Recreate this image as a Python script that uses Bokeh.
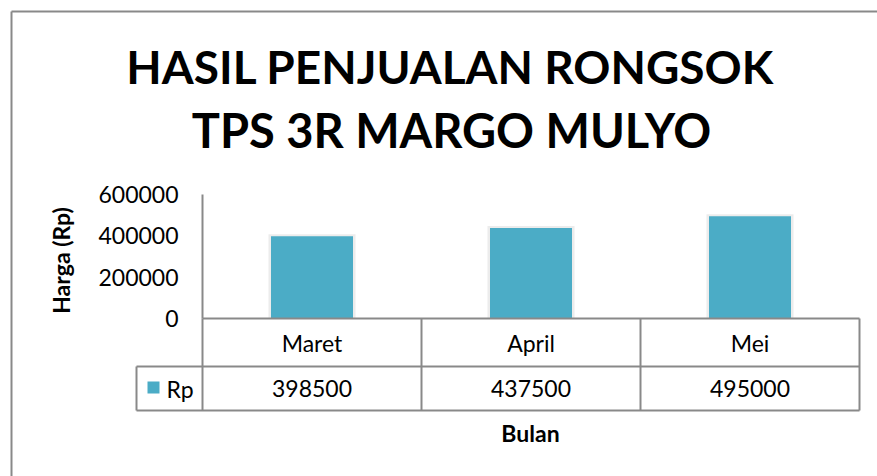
import math
from bokeh.plotting import figure
from bokeh.models import Range1d, FixedTicker, Label, NumeralTickFormatter
from bokeh.core.properties import value
from bokeh.embed import file_html
from bokeh.resources import INLINE

# ---- data ----
months = ["Maret", "April", "Mei"]
harga = [398500, 437500, 495000]
series_name = "Rp"
y_ticks = [0, 200000, 400000, 600000]
title_lines = ["HASIL PENJUALAN RONGSOK", "TPS 3R MARGO MULYO"]
y_title = "Harga (Rp)"
x_title = "Bulan"

# ---- layout ----
W, H = 877, 476
AX_X, ZERO_Y = 202, 318              # canvas pixel of the value axis and of zero
ymax = y_ticks[-1]
u = ymax / 124.0                      # data units per vertical pixel
n = len(months)
col_px = 219.0                        # pixels per category column

def X(ix):      # canvas pixel x -> data x
    return (ix - AX_X) / col_px

def Y(iy):      # canvas pixel y -> data y
    return (ZERO_Y - iy) * u

FONT = "Lato"
GRAY = "#898989"
BAR = "#4BACC6"

p = figure(width=W, height=H,
           x_range=Range1d(-AX_X / col_px, (W - AX_X) / col_px),
           y_range=Range1d(-(H - ZERO_Y) * u, ZERO_Y * u),
           output_backend="svg", toolbar_location=None, x_axis_location=None,
           min_border=0)
p.grid.visible = False
p.outline_line_color = None
p.background_fill_color = "white"
p.border_fill_color = "white"

ya = p.yaxis[0]
ya.fixed_location = 0
ya.bounds = (0, ymax)
ya.ticker = FixedTicker(ticks=y_ticks)
ya.formatter = NumeralTickFormatter(format="0")
ya.minor_tick_line_color = None
ya.major_tick_line_color = None
ya.major_tick_out = 0
ya.major_tick_in = 0
ya.major_label_standoff = 24
ya.axis_line_color = GRAY
ya.axis_line_width = 2
ya.major_label_text_font = FONT
ya.major_label_text_font_size = "23px"
ya.major_label_text_color = "black"

xs = [i + 0.5 for i in range(n)]
bw = 82 / col_px

# soft glow behind bars
p.vbar(x=xs, width=bw + 5 / col_px, top=[v + 2 * u for v in harga], bottom=0,
       fill_color="#ececec", line_color=None)
p.vbar(x=xs, width=bw, top=harga, bottom=0, fill_color=BAR, line_color=None)

# ---- data table ----
r0, r1, r2 = 0, Y(366), Y(410)
xl = X(136)
hx0 = [0, xl, xl]
hx1 = [n, n, n]
hy = [r0, r1, r2]
p.segment(x0=hx0, y0=hy, x1=hx1, y1=hy, line_color=GRAY, line_width=2)
vx = list(range(0, n + 1)) + [xl]
vy0 = [r0] * (n + 1) + [r1]
vy1 = [r2] * (n + 2)
p.segment(x0=vx, y0=vy0, x1=vx, y1=vy1, line_color=GRAY, line_width=2)

p.text(x=xs, y=[Y(342)] * n, text=months, text_align="center", text_baseline="middle",
       text_font=value(FONT), text_font_size="23px", text_color="black")
p.text(x=xs, y=[Y(388)] * n, text=[str(v) for v in harga], text_align="center",
       text_baseline="middle", text_font=value(FONT), text_font_size="23px", text_color="black")

# legend key in the table
p.quad(left=[X(147)], right=[X(159)], top=[Y(381)], bottom=[Y(393)],
       fill_color=BAR, line_color=None)
p.text(x=[X(166)], y=[Y(388)], text=[series_name], text_align="left", text_baseline="middle",
       text_font=value(FONT), text_font_size="23px", text_color="black")

# ---- titles ----
p.add_layout(Label(x=X(450), y=Y(66), text=title_lines[0], text_align="center",
                   text_baseline="middle", text_font=FONT, text_font_size="46px",
                   text_font_style="bold", text_color="black"))
p.add_layout(Label(x=X(451), y=Y(129), text=title_lines[1], text_align="center",
                   text_baseline="middle", text_font=FONT, text_font_size="47px",
                   text_font_style="bold", text_color="black"))
p.add_layout(Label(x=X(60), y=Y(260), text=y_title, angle=math.pi / 2,
                   text_align="center", text_baseline="middle", text_font=FONT,
                   text_font_size="23px", text_font_style="bold", text_color="black"))
p.add_layout(Label(x=X(530), y=Y(432), text=x_title, text_align="center",
                   text_baseline="middle", text_font=FONT, text_font_size="23px",
                   text_font_style="bold", text_color="black"))

# outer chart border (runs off the right and bottom of the picture)
bx = [X(11), X(11)]
by = [Y(11), Y(11)]
p.segment(x0=bx, y0=by, x1=[X(11), X(900)], y1=[Y(500), Y(11)],
          line_color=GRAY, line_width=2)

open("out.html", "w").write(file_html(p, INLINE))
